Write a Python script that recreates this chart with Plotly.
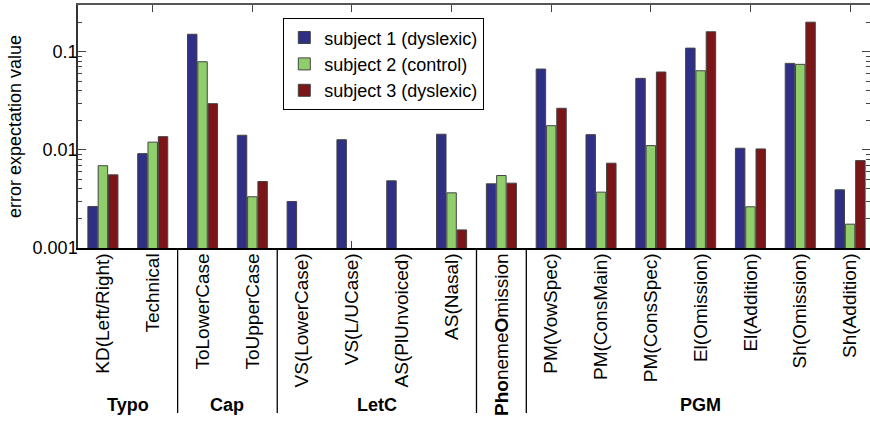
import plotly.graph_objects as go

categories = ["KD(Left/Right)", "Technical", "ToLowerCase", "ToUpperCase",
              "VS(LowerCase)", "VS(L/UCase)", "AS(PlUnvoiced)", "AS(Nasal)",
              "<b>Pho</b>neme<b>O</b>mission",
              "PM(VowSpec)", "PM(ConsMain)", "PM(ConsSpec)", "El(Omission)",
              "El(Addition)", "Sh(Omission)", "Sh(Addition)"]

subject1 = [0.00265, 0.00916, 0.151, 0.0141, 0.00298, 0.0127, 0.00484, 0.01445,
            0.00451, 0.0667, 0.0143, 0.0536, 0.109, 0.0104, 0.0762, 0.00392]
subject2 = [0.0069, 0.0120, 0.0791, 0.00333, None, None, None, 0.00365,
            0.00548, 0.01766, 0.00371, 0.01106, 0.0641, 0.00263, 0.0745, 0.00175]
subject3 = [0.00557, 0.01365, 0.0296, 0.00476, None, None, None, 0.00153,
            0.00458, 0.02656, 0.00732, 0.0622, 0.160, 0.01023, 0.2005, 0.00778]

series_names = ["subject 1 (dyslexic)", "subject 2 (control)", "subject 3 (dyslexic)"]
series_colors = ["#2f2f86", "#8fce6b", "#7b1517"]

groups = [("Typo", 2), ("Cap", 2), ("LetC", 4), ("", 1), ("PGM", 7)]

ytickvals = [0.001, 0.01, 0.1]
yticktext = ["0.001", "0.01", "0.1"]

FONT = "Liberation Sans, Arial, Helvetica, sans-serif"
FS = 18
xs = list(range(1, len(categories) + 1))

fig = go.Figure()
for name, vals, col in zip(series_names, [subject1, subject2, subject3], series_colors):
    fig.add_trace(go.Bar(x=xs, y=vals, name=name, marker_color=col,
                         marker_line=dict(color="#444444", width=1)))

plot_h = 243.0
pos = 0.5
for label, n in groups:
    start = pos
    end = pos + n
    if label:
        fig.add_annotation(x=(start + end) / 2, xref="x", y=-(405 - 248) / plot_h, yref="paper",
                           text=f"<b>{label}</b>", showarrow=False,
                           font=dict(size=FS, color="black", family=FONT),
                           xanchor="center", yanchor="middle")
    pos = end
pos = 0.5
for label, n in groups[:-1]:
    pos += n
    fig.add_shape(type="line", xref="x", yref="paper", x0=pos, x1=pos, y0=0,
                  y1=-(413 - 248) / plot_h, line=dict(color="black", width=1.3))

fig.update_layout(
    width=870, height=421,
    margin=dict(l=78, r=0, t=5, b=173, autoexpand=False),
    plot_bgcolor="white", paper_bgcolor="white",
    barmode="group", bargap=0.38, bargroupgap=0.08,
    font=dict(family=FONT, size=FS, color="black"),
    showlegend=True,
    legend=dict(x=(283 - 78) / 792, y=(248 - 18) / plot_h, xanchor="left", yanchor="top",
                bgcolor="white", bordercolor="black", borderwidth=1.3,
                font=dict(size=FS, family=FONT), tracegroupgap=0,
                itemwidth=30),
    xaxis=dict(range=[0.5, 16.4], tickmode="array", tickvals=xs, ticktext=categories,
               tickangle=-90, ticks="", showline=True, linecolor="black", linewidth=1.5,
               mirror=False, showgrid=False, zeroline=False, tickfont=dict(size=19),
               automargin=False, ticklabelstandoff=-4),
    xaxis2=dict(range=[0.5, 16.4], overlaying="x", side="bottom", tickmode="array",
                tickvals=xs[1::2], ticks="inside", ticklen=7, tickcolor="#444",
                showticklabels=False, showline=True, linecolor="#555", linewidth=1.5,
                mirror="ticks", showgrid=False, zeroline=False, layer="below traces"),
    yaxis=dict(type="log", range=[-3, -0.523], tickmode="array", tickvals=ytickvals,
               ticktext=yticktext, ticks="inside", ticklen=8, tickcolor="#444",
               showline=True, linecolor="#333", linewidth=1.5, mirror="ticks",
               showgrid=False, zeroline=False, tickfont=dict(size=FS), automargin=False,
               ticklabelstandoff=-5,
               minor=dict(ticks="inside", ticklen=4, tickcolor="#444",
                          tickvals=[k * 10 ** e for e in (-3, -2, -1) for k in range(2, 10)]),
               title=dict(text="error expectation value", font=dict(size=FS), standoff=6)),
)

fig.add_trace(go.Scatter(x=[1], y=[None], xaxis="x2", showlegend=False, hoverinfo="skip"))

fig.write_html("out.html", config={"displayModeBar": False},
               post_script="document.body.style.margin='0';")
